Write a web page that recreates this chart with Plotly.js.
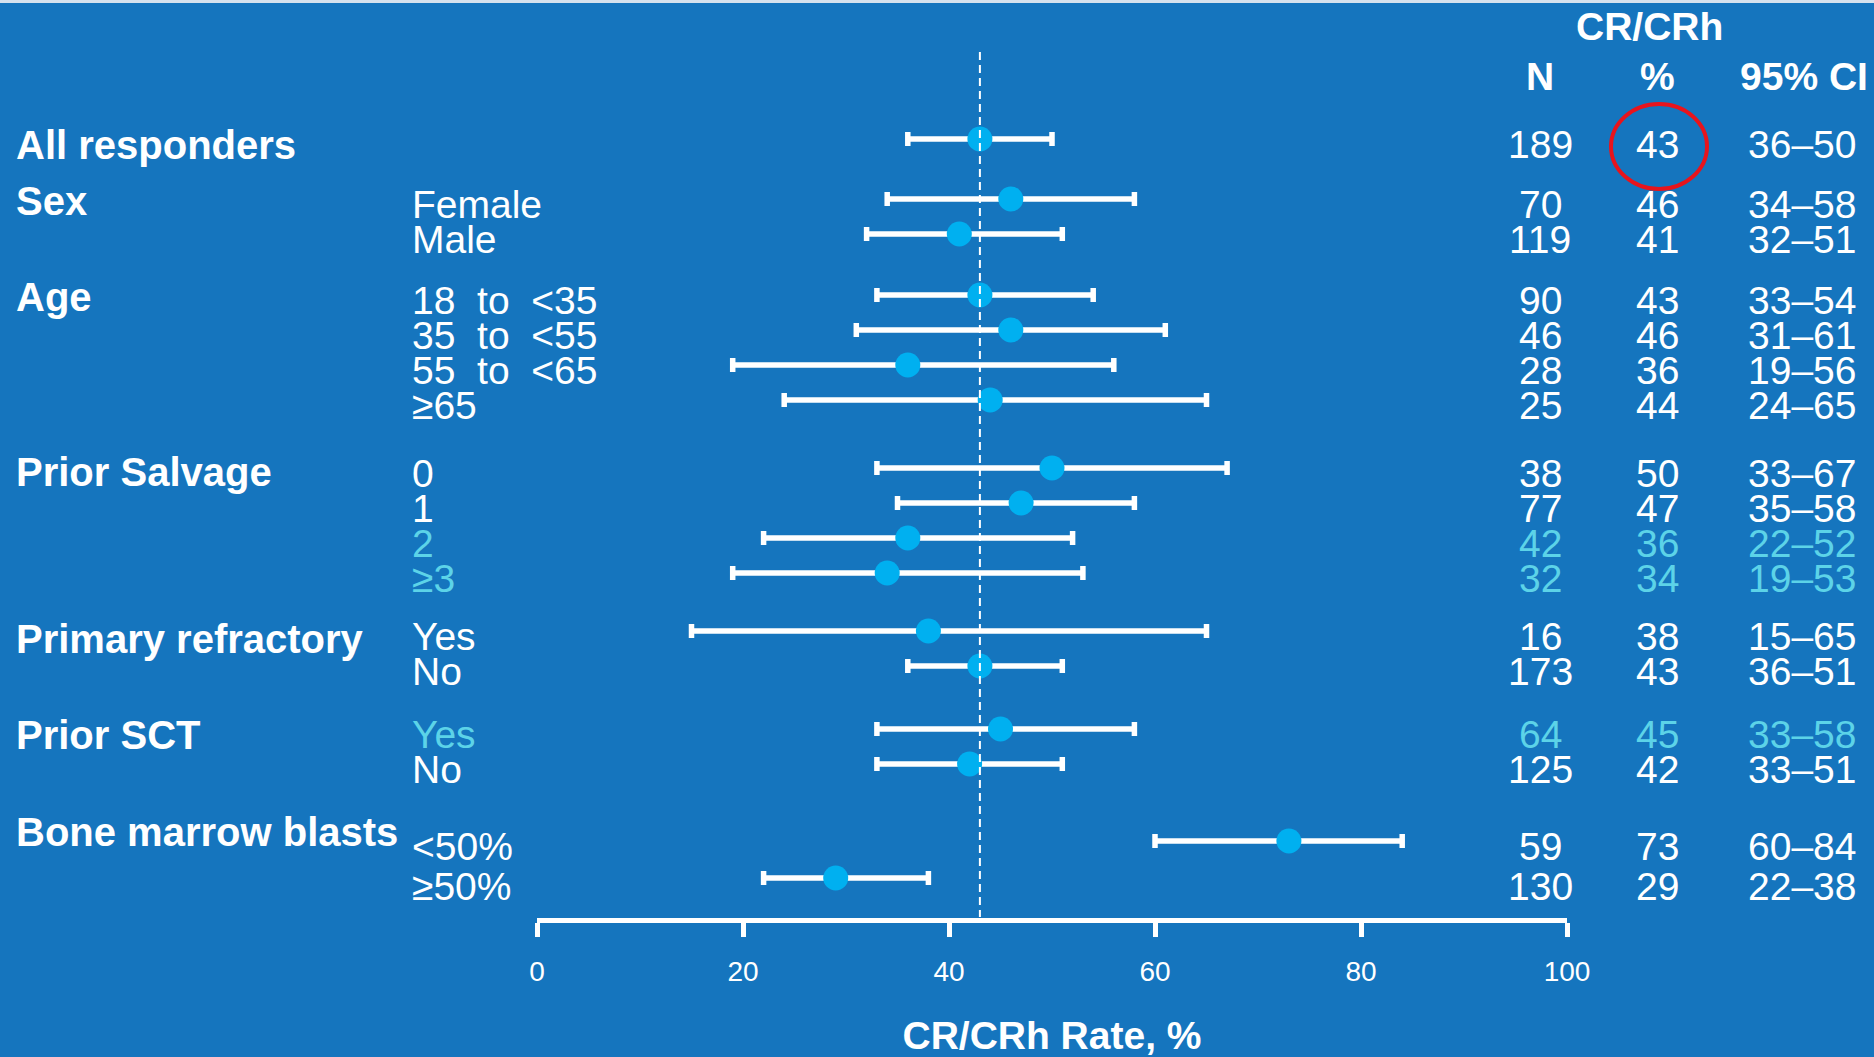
<!DOCTYPE html>
<html>
<head>
<meta charset="utf-8">
<script src="https://cdn.plot.ly/plotly-3.0.1.min.js"></script>
<style>
  html, body { margin: 0; padding: 0; background: #1575BE; }
  #chart { width: 1874px; height: 1057px; }
</style>
</head>
<body>
<div id="chart"></div>
<script>
// ---------------- DATA ----------------
const groupLabels = ['All responders', 'Sex', 'Age', 'Prior Salvage', 'Primary refractory', 'Prior SCT', 'Bone marrow blasts'];
const subgroupLabels = ['', 'Female', 'Male',
  '18\u00a0\u00a0to\u00a0\u00a0&lt;35', '35\u00a0\u00a0to\u00a0\u00a0&lt;55', '55\u00a0\u00a0to\u00a0\u00a0&lt;65', '≥65',
  '0', '1', '2', '≥3', 'Yes', 'No', 'Yes', 'No', '&lt;50%', '≥50%'];
const groupOfRow = [0, 1, 1, 2, 2, 2, 2, 3, 3, 3, 3, 4, 4, 5, 5, 6, 6];
const nPatients = [189, 70, 119, 90, 46, 28, 25, 38, 77, 42, 32, 16, 173, 64, 125, 59, 130];
const crRate    = [43, 46, 41, 43, 46, 36, 44, 50, 47, 36, 34, 38, 43, 45, 42, 73, 29];
const ciLow     = [36, 34, 32, 33, 31, 19, 24, 33, 35, 22, 19, 15, 36, 33, 33, 60, 22];
const ciHigh    = [50, 58, 51, 54, 61, 56, 65, 67, 58, 52, 53, 65, 51, 58, 51, 84, 38];
const highlightedRows = [9, 10, 13];
const xTicks = [0, 20, 40, 60, 80, 100];

// ---------------- LAYOUT CONSTANTS ----------------
const W = 1874, H = 1057;
const BG = '#1575BE';
const CYAN_TEXT = '#5CD3E8';
const MARKER = '#00B0F0';
const FONT = 'Liberation Sans, Arial, Helvetica, sans-serif';
const FIRST_ROW = 139, ROW_PITCH = 35;
const GROUP_GAP = [0, 25, 26, 33, 23, 28, 42];
const GROUP_LABEL_DY = [6, 2, 2, 4, 8, 6, -9];
const TEXT_DY = 5;

// row positions from the group structure (vertical layout in px units)
const rowY = [];
groupOfRow.forEach((g, i) => {
  if (i === 0) { rowY.push(FIRST_ROW); return; }
  let y = rowY[i - 1] + ROW_PITCH;
  if (g !== groupOfRow[i - 1]) y += GROUP_GAP[g];
  if (g === 6 && g === groupOfRow[i - 1]) y += 2;
  rowY.push(y);
});

const px = v => v / W;
const colX = { group: 14, sub: 410, n: 1540, pct: 1657, ci: 1802 };

const annotations = [];
function addText(text, xpx, y, opts) {
  annotations.push(Object.assign({
    text: text, xref: 'paper', yref: 'y', x: px(xpx), y: y,
    xanchor: 'center', yanchor: 'middle', showarrow: false,
    font: { family: FONT, size: 39, color: 'white' }
  }, opts || {}));
}

// group labels
groupLabels.forEach((g, gi) => {
  const first = groupOfRow.indexOf(gi);
  addText(g, colX.group, rowY[first] + GROUP_LABEL_DY[gi],
    { xanchor: 'left', font: { family: FONT, size: 40, color: 'white', weight: 'bold' } });
});

// per-row texts
rowY.forEach((y, i) => {
  const col = highlightedRows.includes(i) ? CYAN_TEXT : 'white';
  const f = { family: FONT, size: 39, color: col };
  const dy = TEXT_DY + (i === rowY.length - 1 ? 3 : 0);
  if (subgroupLabels[i]) addText(subgroupLabels[i], colX.sub, y + dy, { xanchor: 'left', font: f });
  addText(String(nPatients[i]), colX.n, y + dy, { font: f });
  addText(String(crRate[i]), colX.pct, y + dy, { font: f });
  addText(ciLow[i] + '–' + ciHigh[i], colX.ci, y + dy, { font: f });
});

// headers
const hf = { family: FONT, size: 39, color: 'white', weight: 'bold' };
addText('CR/CRh', 1649, 26, { font: hf });
addText('N', colX.n, 76, { font: hf });
addText('%', colX.pct, 76, { font: hf });
addText('95% CI', 1804, 76, { font: hf });

const shapes = [
  { type: 'rect', xref: 'paper', yref: 'paper', x0: 0, x1: 1, y0: 1 - 3 / H, y1: 1,
    fillcolor: '#d6e2ee', line: { width: 0 }, layer: 'below' },
  { type: 'line', xref: 'x', yref: 'y', x0: crRate[0], x1: crRate[0], y0: 52, y1: 917,
    line: { color: 'white', width: 2, dash: '8px,5px' }, layer: 'above' },
  { type: 'circle', xref: 'paper', yref: 'y', x0: px(1611), x1: px(1707), y0: 104, y1: 189,
    line: { color: '#E8141C', width: 4 }, layer: 'above' }
];

const trace = {
  type: 'scatter', mode: 'markers',
  x: crRate, y: rowY,
  marker: { size: 25, color: MARKER, line: { width: 0 } },
  error_x: {
    type: 'data', symmetric: false,
    array: crRate.map((v, i) => ciHigh[i] - v),
    arrayminus: crRate.map((v, i) => v - ciLow[i]),
    color: 'white', thickness: 5.5, width: 7
  },
  hoverinfo: 'skip', cliponaxis: false
};

const layout = {
  width: W, height: H,
  margin: { l: 0, r: 0, t: 0, b: 0, pad: 0 },
  paper_bgcolor: BG, plot_bgcolor: 'rgba(0,0,0,0)',
  showlegend: false,
  font: { family: FONT, color: 'white' },
  xaxis: {
    domain: [px(537), px(1567)], range: [0, 100],
    tickmode: 'array', tickvals: xTicks, ticktext: xTicks.map(String),
    showgrid: false, zeroline: false,
    showline: true, linecolor: 'white', linewidth: 5,
    ticks: 'outside', ticklen: 14, tickwidth: 5, tickcolor: 'white',
    ticklabelstandoff: 10,
    tickfont: { family: FONT, size: 28, color: 'white' },
    anchor: 'free', position: 1 - 920 / H,
    automargin: false, fixedrange: true,
    title: { text: 'CR/CRh Rate, %', standoff: 38,
      font: { family: FONT, size: 39, color: 'white', weight: 'bold' } }
  },
  yaxis: {
    domain: [0, 1], range: [H, 0], visible: false,
    showgrid: false, zeroline: false, fixedrange: true, automargin: false
  },
  shapes: shapes,
  annotations: annotations
};

Plotly.newPlot('chart', [trace], layout, { displayModeBar: false, staticPlot: true });
</script>
</body>
</html>
